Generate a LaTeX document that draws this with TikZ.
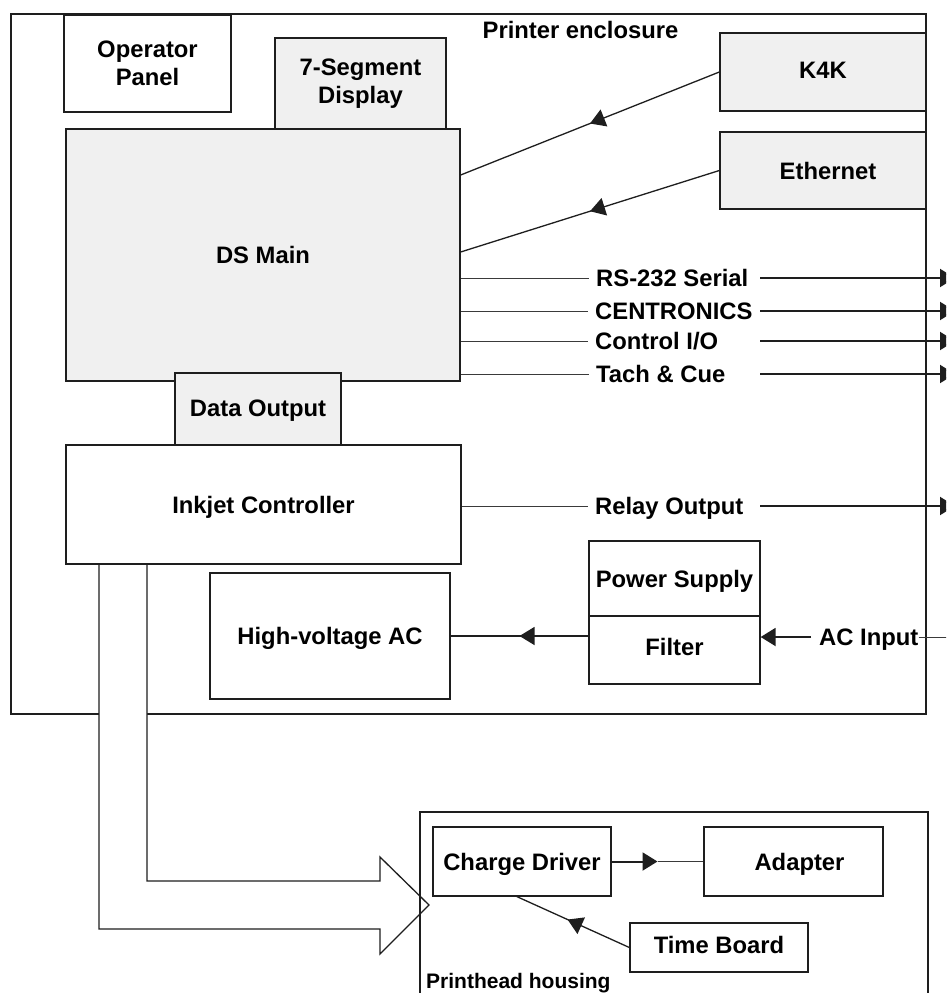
\documentclass[tikz,border=0pt]{standalone}
\usepackage{fontspec}
\setmainfont{Liberation Sans}
\usetikzlibrary{arrows.meta,decorations.markings,calc}
\definecolor{ink}{HTML}{1E1E1E}
\definecolor{wire}{HTML}{3A3A3A}
\definecolor{panel}{HTML}{F0F0F0}
\newcommand\lbl{\fontsize{23.8}{28}\selectfont\bfseries}
\newcommand\smalllbl{\fontsize{21}{25}\selectfont\bfseries}
\begin{document}
\begin{tikzpicture}[x=1pt,y=-1pt,>={Triangle[length=15pt,width=18pt]},
  box/.style={draw=ink,line width=1.3pt,fill=white,inner sep=2pt,align=center,font=\lbl},
  shaded/.style={box,fill=panel},
  oneline/.style={text height=17pt,text depth=0pt},
  sig/.style={anchor=west,inner sep=0pt,font=\lbl,oneline},
  ln/.style={draw=ink,line width=1.3pt},
  thinln/.style={draw=wire,line width=1pt},
  boldln/.style={draw=ink,line width=2pt},
  midtip/.style={postaction={decorate},decoration={markings,mark=at position #1 with {\arrow{>}}}},
  midtip/.default=0.5]

\useasboundingbox (0,0) rectangle (946,993);
\clip (0,0) rectangle (946,993);
\fill[white] (0,0) rectangle (946,993);

% printer enclosure
\node[draw=ink,line width=1.3pt,minimum width=915pt,minimum height=700pt,inner sep=0pt] (encl) at (468.5,364) {};
\node[font=\lbl,oneline,inner sep=0pt] (encltitle) at (580.5,30) {Printer enclosure};

% cable bundle from the inkjet controller to the printhead
\draw[ln,fill=white,line join=miter] (99,565) -- (99,929) -- (380,929) -- (380,954) -- (429,905)
  -- (380,857) -- (380,881) -- (147,881) -- (147,565);

% printhead housing (continues below)
\draw[ln] (420,1005) |- (928,812) -- (928,1005);
\node[anchor=west,inner sep=0pt,font=\smalllbl,text height=15pt,text depth=0pt] (housingtitle) at (426,980.5) {Printhead housing};

% boards inside the enclosure
\node[box,minimum width=167pt,minimum height=97pt] (oppanel) at (147.5,63.5) {Operator\\Panel};
\node[shaded,minimum width=394pt,minimum height=252pt,oneline] (dsmain) at (263,255) {DS Main};
\node[shaded,minimum width=171pt,minimum height=91pt] (seg7) at (360.5,83.5) {7-Segment\\Display};
\node[shaded,minimum width=166pt,minimum height=72pt,oneline,text depth=3pt] (dout) at (258,409) {Data Output};
\node[box,minimum width=395pt,minimum height=119pt,oneline] (inkjet) at (263.5,504.5) {Inkjet Controller};
\node[box,minimum width=240pt,minimum height=126pt,oneline] (hvac) at (330,636) {High-voltage AC};
\node[box,minimum width=171pt,minimum height=75pt,oneline] (psu) at (674.5,578.5) {Power Supply};
\node[box,minimum width=171pt,minimum height=68pt,oneline,text depth=6pt] (filter) at (674.5,650) {Filter};
\node[shaded,minimum width=206pt,minimum height=78pt,oneline,text depth=4pt] (k4k) at (823,72) {K4K};
\node[shaded,minimum width=206pt,minimum height=77pt,oneline] (eth) at (823,170.5) {\hspace*{10pt}Ethernet};

% boards inside the printhead housing
\node[box,minimum width=178pt,minimum height=69pt,oneline] (charge) at (522,861.5) {Charge Driver};
\node[box,minimum width=179pt,minimum height=69pt,oneline] (adapter) at (793.5,861.5) {\hspace*{12pt}Adapter};
\node[box,minimum width=178pt,minimum height=49pt,oneline,text depth=5pt] (timeb) at (719,947.5) {Time Board};

% network inputs to DS Main
\draw[ln,midtip] (k4k.west) -- ([yshift=80pt]dsmain.east);
\draw[ln,midtip] (eth.west) -- ([yshift=3pt]dsmain.east);

% external connections leaving the enclosure
\coordinate (gap) at (760,0);
\coordinate (rim) at (955,0);
\node[sig] (rs)    at (596,278) {RS-232 Serial};
\node[sig] (cen)   at (595,311) {CENTRONICS};
\node[sig] (cio)   at (595,341) {Control I/O};
\node[sig] (tach)  at (596,374) {Tach \& Cue};
\node[sig] (relay) at (595,506) {Relay Output};
\foreach \s in {rs,cen,cio,tach}{
  \draw[thinln] (\s.west -| dsmain.east) -- ([xshift=-7pt]\s.west);
  \draw[boldln,->] (\s.west -| gap) -- (\s.west -| rim);
}
\draw[thinln] (relay.west -| inkjet.east) -- ([xshift=-7pt]relay.west);
\draw[boldln,->] (relay.west -| gap) -- (relay.west -| rim);

% mains input
\node[sig] (acin) at (819,637) {AC Input};
\draw[boldln,->] ([xshift=-8pt]acin.west) -- (acin.west -| filter.east);
\draw[thinln] (acin.east) -- (acin.east -| rim);
\draw[ln,midtip] (filter.west |- hvac.east) -- (hvac.east);

% printhead links
\coordinate (cdmid) at ($(charge.east)!0.5!(adapter.west)$);
\draw[boldln,->] (charge.east) -- (cdmid);
\draw[thinln] (cdmid) -- (adapter.west);
\draw[ln,midtip=0.55] (timeb.west) -- ([xshift=-5pt]charge.south);
\end{tikzpicture}
\end{document}
